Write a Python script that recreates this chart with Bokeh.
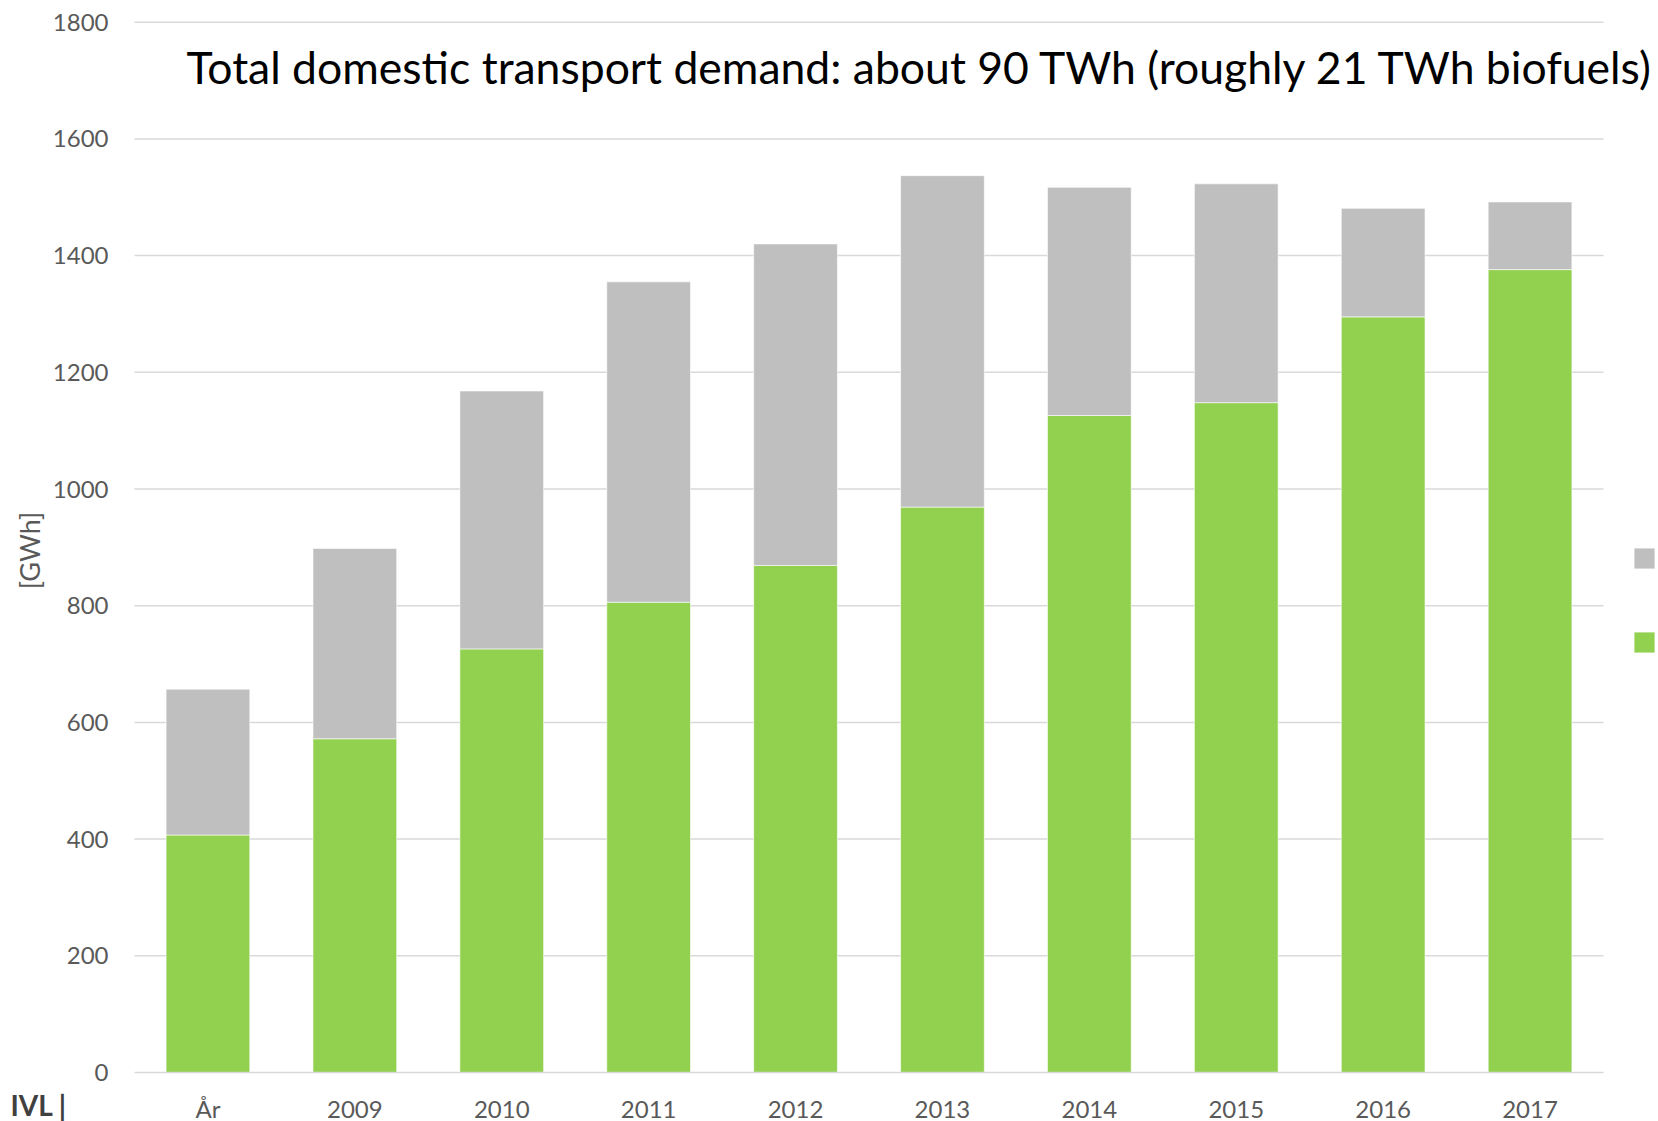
import math
from bokeh.plotting import figure
from bokeh.models import Range1d, FixedTicker, Label, Legend, LegendItem, ColumnDataSource
from bokeh.embed import file_html
from bokeh.resources import INLINE

# ---- data ----
categories = ["År", "2009", "2010", "2011", "2012", "2013", "2014", "2015", "2016", "2017"]
biofuel = [407, 572, 726, 806, 869, 969, 1126, 1148, 1295, 1376]
total = [657, 898, 1168, 1355, 1420, 1537, 1517, 1523, 1481, 1492]
fossil = [t - b for t, b in zip(total, biofuel)]
y_ticks = [0, 200, 400, 600, 800, 1000, 1200, 1400, 1600, 1800]
title_text = "Total domestic transport demand: about 90 TWh (roughly 21 TWh biofuels)"
y_label = "[GWh]"
logo_text = "IVL |"

GREEN = "#92D050"
GRAY = "#BFBFBF"
GRID = "#D9D9D9"
TXT = "#595959"
FONT = "Lato"

# ---- layout (pixels from the page's top-left corner) ----
W, H = 1658, 1121
PLOT_L, PLOT_T, PLOT_B = 134, 21.7, 1072     # category area left edge, y of top tick, y of zero line
CAT_PX = 146.9                               # pixels per category
Y_MAX = y_ticks[-1]
px_per_unit = (PLOT_B - PLOT_T) / Y_MAX
n = len(categories)
x = list(range(n))

x0 = -0.5 - PLOT_L / CAT_PX
x1 = -0.5 + (W - PLOT_L) / CAT_PX
y0 = -(H - PLOT_B) / px_per_unit
y1 = Y_MAX + PLOT_T / px_per_unit

p = figure(width=W, height=H, output_backend="svg", toolbar_location=None,
           x_range=Range1d(x0, x1), y_range=Range1d(y0, y1),
           min_border_left=0, min_border_right=0, min_border_top=0, min_border_bottom=0)
p.outline_line_color = None
p.background_fill_color = "white"
p.border_fill_color = "white"
p.xgrid.visible = False
p.ygrid.visible = False

src = ColumnDataSource(dict(x=x, cat=categories, biofuel=biofuel, fossil=fossil))

# horizontal gridlines over the category span
p.segment(x0=[-0.5] * (len(y_ticks) - 1), x1=[n - 0.5] * (len(y_ticks) - 1),
          y0=y_ticks[1:], y1=y_ticks[1:], line_color=GRID, line_width=1.5)

rs = p.vbar_stack(["biofuel", "fossil"], x="x", width=0.57, source=src,
                  color=[GREEN, GRAY], line_color="white", line_width=0.6)

# axes (fixed inside the canvas)
xa = p.xaxis[0]
xa.fixed_location = 0
xa.ticker = FixedTicker(ticks=x)
xa.major_label_overrides = {i: c for i, c in zip(x, categories)}
xa.bounds = (-0.5, n - 0.5)
xa.axis_line_color = GRID
xa.axis_line_width = 1.5
xa.major_tick_line_color = None
xa.minor_tick_line_color = None
xa.major_tick_out = 0
xa.major_tick_in = 0
xa.major_label_standoff = 21
xa.major_label_text_font = FONT
xa.major_label_text_font_size = "24px"
xa.major_label_text_color = TXT

ya = p.yaxis[0]
ya.fixed_location = -0.5
ya.ticker = FixedTicker(ticks=y_ticks)
ya.axis_line_color = None
ya.major_tick_line_color = None
ya.minor_tick_line_color = None
ya.major_tick_out = 0
ya.major_tick_in = 0
ya.major_label_standoff = 26
ya.major_label_text_font = FONT
ya.major_label_text_font_size = "24px"
ya.major_label_text_color = TXT

# y-axis title
p.add_layout(Label(x=28.5, y=H - 550, x_units="screen", y_units="screen", text=y_label,
                   angle=math.pi / 2, text_align="center", text_baseline="middle",
                   text_font=FONT, text_font_size="27px", text_color=TXT))

# legend swatches (their labels lie outside the visible area in the original)
legend = Legend(items=[LegendItem(label=" ", renderers=[rs[1]]),
                       LegendItem(label=" ", renderers=[rs[0]])],
                location=(1630.5, H - 654.5), orientation="vertical",
                glyph_width=26, glyph_height=26, label_height=26, spacing=58,
                padding=0, margin=0, label_standoff=0, label_width=1,
                border_line_color=None, background_fill_alpha=0,
                label_text_font_size="1px")
p.add_layout(legend, "center")

# chart title inside the plot area
p.add_layout(Label(x=920, y=H - 66, x_units="screen", y_units="screen", text=title_text,
                   text_align="center", text_baseline="alphabetic",
                   text_font=FONT, text_font_size="44.5px", text_color="black"))

# logo text bottom-left
p.add_layout(Label(x=10, y=16.5, x_units="screen", y_units="screen", text=logo_text,
                   text_align="left", text_baseline="alphabetic",
                   text_font=FONT, text_font_size="28px", text_font_style="bold",
                   text_color="#404040"))

open("out.html", "w").write(file_html(p, INLINE))
